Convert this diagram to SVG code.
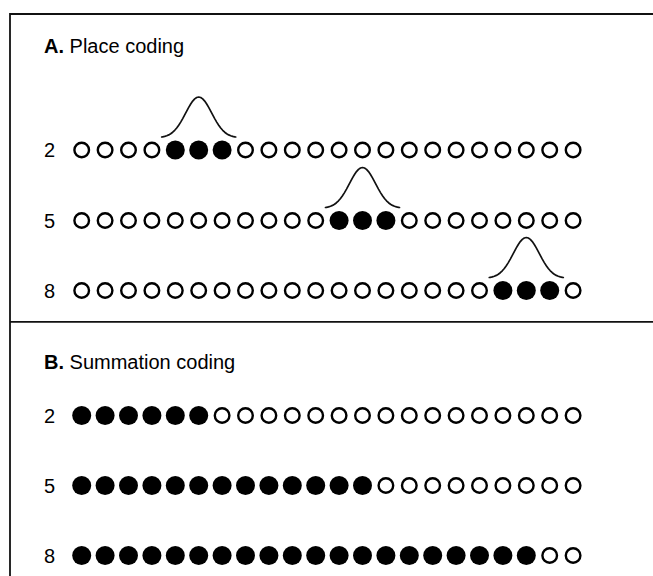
<svg xmlns="http://www.w3.org/2000/svg" xmlns:xlink="http://www.w3.org/1999/xlink" width="653" height="576" viewBox="0 0 653 576">
  <style>
    .frame { fill: none; stroke: #111; stroke-width: 1.8; }
    .title { font-family: "Liberation Sans", Arial, sans-serif; font-size: 20px; fill: #000; }
    .title .key { font-weight: bold; }
    .num { font-family: "Liberation Sans", Arial, sans-serif; font-size: 20px; fill: #000; }
    .off { fill: #fff; stroke: #000; stroke-width: 2.4; }
    .on { fill: #000; stroke: none; }
    .bell { fill: none; stroke: #111; stroke-width: 1.7; stroke-linejoin: round; stroke-linecap: round; }
  </style>
  <defs>
    <!-- unit tuning curve: base at y=0, peak 40 px above, half-width 37 px -->
    <path id="bell" class="bell" d="M-37,0 L-36,-0.2 L-34,-0.6 L-32,-1.3 L-30,-2.1 L-28,-3.3 L-26,-4.8 L-24,-6.7 L-22,-9 L-20,-11.8 L-18,-14.9 L-16,-18.4 L-14,-22.1 L-12,-25.9 L-10,-29.6 L-8,-33 L-6,-35.9 L-4,-38.1 L-2,-39.5 L0,-40 L2,-39.5 L4,-38.1 L6,-35.9 L8,-33 L10,-29.6 L12,-25.9 L14,-22.1 L16,-18.4 L18,-14.9 L20,-11.8 L22,-9 L24,-6.7 L26,-4.8 L28,-3.3 L30,-2.1 L32,-1.3 L34,-0.6 L36,-0.2 L37,0"/>
    <circle id="off" class="off" r="7.3"/>
    <circle id="on" class="on" r="9.5"/>
  </defs>

  <rect width="653" height="576" fill="#fff"/>

  <!-- panel frame and divider -->
  <g id="frame">
    <path class="frame" d="M10,576 V14 H653"/>
    <path class="frame" d="M10,321.8 H653"/>
  </g>

  <!-- Panel A: place coding -->
  <g id="panelA">
    <text class="title" x="44" y="53"><tspan class="key">A.</tspan> Place coding</text>

    <g id="a2">
      <text class="num" x="44" y="157">2</text>
      <use xlink:href="#bell" href="#bell" x="198.7" y="137"/>
      <use href="#off" x="81.7" y="150"/>
      <use href="#off" x="105.1" y="150"/>
      <use href="#off" x="128.5" y="150"/>
      <use href="#off" x="151.9" y="150"/>
      <use href="#on" x="175.3" y="150"/>
      <use href="#on" x="198.7" y="150"/>
      <use href="#on" x="222.1" y="150"/>
      <use href="#off" x="245.5" y="150"/>
      <use href="#off" x="268.9" y="150"/>
      <use href="#off" x="292.3" y="150"/>
      <use href="#off" x="315.7" y="150"/>
      <use href="#off" x="339.1" y="150"/>
      <use href="#off" x="362.5" y="150"/>
      <use href="#off" x="385.9" y="150"/>
      <use href="#off" x="409.3" y="150"/>
      <use href="#off" x="432.7" y="150"/>
      <use href="#off" x="456.1" y="150"/>
      <use href="#off" x="479.5" y="150"/>
      <use href="#off" x="502.9" y="150"/>
      <use href="#off" x="526.3" y="150"/>
      <use href="#off" x="549.7" y="150"/>
      <use href="#off" x="573.1" y="150"/>
    </g>

    <g id="a5">
      <text class="num" x="44" y="227.5">5</text>
      <use xlink:href="#bell" href="#bell" x="362.5" y="207.5"/>
      <use href="#off" x="81.7" y="220.5"/>
      <use href="#off" x="105.1" y="220.5"/>
      <use href="#off" x="128.5" y="220.5"/>
      <use href="#off" x="151.9" y="220.5"/>
      <use href="#off" x="175.3" y="220.5"/>
      <use href="#off" x="198.7" y="220.5"/>
      <use href="#off" x="222.1" y="220.5"/>
      <use href="#off" x="245.5" y="220.5"/>
      <use href="#off" x="268.9" y="220.5"/>
      <use href="#off" x="292.3" y="220.5"/>
      <use href="#off" x="315.7" y="220.5"/>
      <use href="#on" x="339.1" y="220.5"/>
      <use href="#on" x="362.5" y="220.5"/>
      <use href="#on" x="385.9" y="220.5"/>
      <use href="#off" x="409.3" y="220.5"/>
      <use href="#off" x="432.7" y="220.5"/>
      <use href="#off" x="456.1" y="220.5"/>
      <use href="#off" x="479.5" y="220.5"/>
      <use href="#off" x="502.9" y="220.5"/>
      <use href="#off" x="526.3" y="220.5"/>
      <use href="#off" x="549.7" y="220.5"/>
      <use href="#off" x="573.1" y="220.5"/>
    </g>

    <g id="a8">
      <text class="num" x="44" y="297.5">8</text>
      <use xlink:href="#bell" href="#bell" x="526.3" y="277.5"/>
      <use href="#off" x="81.7" y="290.5"/>
      <use href="#off" x="105.1" y="290.5"/>
      <use href="#off" x="128.5" y="290.5"/>
      <use href="#off" x="151.9" y="290.5"/>
      <use href="#off" x="175.3" y="290.5"/>
      <use href="#off" x="198.7" y="290.5"/>
      <use href="#off" x="222.1" y="290.5"/>
      <use href="#off" x="245.5" y="290.5"/>
      <use href="#off" x="268.9" y="290.5"/>
      <use href="#off" x="292.3" y="290.5"/>
      <use href="#off" x="315.7" y="290.5"/>
      <use href="#off" x="339.1" y="290.5"/>
      <use href="#off" x="362.5" y="290.5"/>
      <use href="#off" x="385.9" y="290.5"/>
      <use href="#off" x="409.3" y="290.5"/>
      <use href="#off" x="432.7" y="290.5"/>
      <use href="#off" x="456.1" y="290.5"/>
      <use href="#off" x="479.5" y="290.5"/>
      <use href="#on" x="502.9" y="290.5"/>
      <use href="#on" x="526.3" y="290.5"/>
      <use href="#on" x="549.7" y="290.5"/>
      <use href="#off" x="573.1" y="290.5"/>
    </g>
  </g>

  <!-- Panel B: summation coding -->
  <g id="panelB">
    <text class="title" x="44" y="369"><tspan class="key">B.</tspan> Summation coding</text>

    <g id="b2">
      <text class="num" x="44" y="422.5">2</text>
      <use href="#on" x="81.7" y="415.5"/>
      <use href="#on" x="105.1" y="415.5"/>
      <use href="#on" x="128.5" y="415.5"/>
      <use href="#on" x="151.9" y="415.5"/>
      <use href="#on" x="175.3" y="415.5"/>
      <use href="#on" x="198.7" y="415.5"/>
      <use href="#off" x="222.1" y="415.5"/>
      <use href="#off" x="245.5" y="415.5"/>
      <use href="#off" x="268.9" y="415.5"/>
      <use href="#off" x="292.3" y="415.5"/>
      <use href="#off" x="315.7" y="415.5"/>
      <use href="#off" x="339.1" y="415.5"/>
      <use href="#off" x="362.5" y="415.5"/>
      <use href="#off" x="385.9" y="415.5"/>
      <use href="#off" x="409.3" y="415.5"/>
      <use href="#off" x="432.7" y="415.5"/>
      <use href="#off" x="456.1" y="415.5"/>
      <use href="#off" x="479.5" y="415.5"/>
      <use href="#off" x="502.9" y="415.5"/>
      <use href="#off" x="526.3" y="415.5"/>
      <use href="#off" x="549.7" y="415.5"/>
      <use href="#off" x="573.1" y="415.5"/>
    </g>

    <g id="b5">
      <text class="num" x="44" y="492.5">5</text>
      <use href="#on" x="81.7" y="485.5"/>
      <use href="#on" x="105.1" y="485.5"/>
      <use href="#on" x="128.5" y="485.5"/>
      <use href="#on" x="151.9" y="485.5"/>
      <use href="#on" x="175.3" y="485.5"/>
      <use href="#on" x="198.7" y="485.5"/>
      <use href="#on" x="222.1" y="485.5"/>
      <use href="#on" x="245.5" y="485.5"/>
      <use href="#on" x="268.9" y="485.5"/>
      <use href="#on" x="292.3" y="485.5"/>
      <use href="#on" x="315.7" y="485.5"/>
      <use href="#on" x="339.1" y="485.5"/>
      <use href="#on" x="362.5" y="485.5"/>
      <use href="#off" x="385.9" y="485.5"/>
      <use href="#off" x="409.3" y="485.5"/>
      <use href="#off" x="432.7" y="485.5"/>
      <use href="#off" x="456.1" y="485.5"/>
      <use href="#off" x="479.5" y="485.5"/>
      <use href="#off" x="502.9" y="485.5"/>
      <use href="#off" x="526.3" y="485.5"/>
      <use href="#off" x="549.7" y="485.5"/>
      <use href="#off" x="573.1" y="485.5"/>
    </g>

    <g id="b8">
      <text class="num" x="44" y="562.5">8</text>
      <use href="#on" x="81.7" y="555.5"/>
      <use href="#on" x="105.1" y="555.5"/>
      <use href="#on" x="128.5" y="555.5"/>
      <use href="#on" x="151.9" y="555.5"/>
      <use href="#on" x="175.3" y="555.5"/>
      <use href="#on" x="198.7" y="555.5"/>
      <use href="#on" x="222.1" y="555.5"/>
      <use href="#on" x="245.5" y="555.5"/>
      <use href="#on" x="268.9" y="555.5"/>
      <use href="#on" x="292.3" y="555.5"/>
      <use href="#on" x="315.7" y="555.5"/>
      <use href="#on" x="339.1" y="555.5"/>
      <use href="#on" x="362.5" y="555.5"/>
      <use href="#on" x="385.9" y="555.5"/>
      <use href="#on" x="409.3" y="555.5"/>
      <use href="#on" x="432.7" y="555.5"/>
      <use href="#on" x="456.1" y="555.5"/>
      <use href="#on" x="479.5" y="555.5"/>
      <use href="#on" x="502.9" y="555.5"/>
      <use href="#on" x="526.3" y="555.5"/>
      <use href="#off" x="549.7" y="555.5"/>
      <use href="#off" x="573.1" y="555.5"/>
    </g>
  </g>
</svg>
